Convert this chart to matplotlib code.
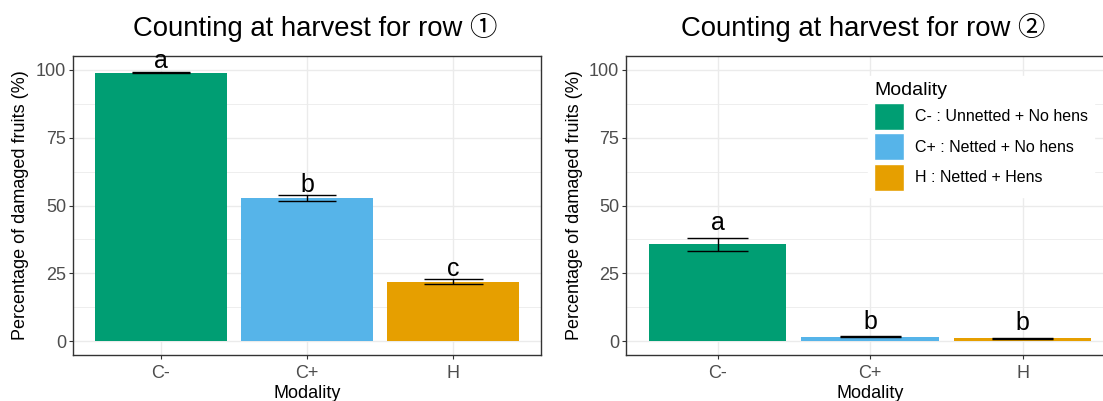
import numpy as np
import matplotlib.pyplot as plt
from matplotlib.patches import Patch
from matplotlib.ticker import MultipleLocator

plt.rcParams['font.family'] = ['Liberation Sans', 'Noto Sans CJK JP', 'DejaVu Sans']

categories = ['C-', 'C+', 'H']
colors = ['#009E73', '#56B4E9', '#E69F00']
legend_labels = ['C- : Unnetted + No hens', 'C+ : Netted + No hens', 'H : Netted + Hens']

row1_mean = [98.9, 52.8, 22.0]
row1_se = [0.3, 1.0, 0.9]
row1_letters = ['a', 'b', 'c']

row2_mean = [35.8, 1.7, 1.2]
row2_se = [2.4, 0.2, 0.2]
row2_letters = ['a', 'b', 'b']

FRAME = '#333333'
GRID = '#EBEBEB'


def draw_panel(ax, means, ses, letters, letter_offset, label_x):
    x = np.arange(len(categories))
    ax.bar(x, means, width=0.9, color=colors, zorder=2)
    means = np.array(means)
    ses = np.array(ses)
    lo, hi = means - ses, means + ses
    ax.vlines(x, lo, hi, color='black', lw=1.0, zorder=3)
    ax.hlines(lo, x - 0.2, x + 0.2, color='black', lw=1.0, zorder=3)
    ax.hlines(hi, x - 0.2, x + 0.2, color='black', lw=1.0, zorder=3)
    for xi, yi, lab in zip(x, hi, letters):
        ax.annotate(lab, (xi, yi), xytext=(0, letter_offset), textcoords='offset points',
                    ha='center', va='baseline', fontsize=18, zorder=4)

    ax.set_xlim(-0.6, 2.6)
    ax.set_ylim(-5, 105)
    ax.set_xticks(x)
    ax.set_xticklabels(categories)
    ax.yaxis.set_major_locator(MultipleLocator(25))
    ax.yaxis.set_minor_locator(MultipleLocator(12.5))
    ax.grid(True, which='major', color=GRID, lw=1.0, zorder=0)
    ax.grid(True, which='minor', axis='y', color=GRID, lw=0.6, zorder=0)
    ax.set_axisbelow(True)
    ax.tick_params(which='major', length=3, width=0.8, color=FRAME,
                   labelsize=13, labelcolor='#4D4D4D', pad=2)
    ax.tick_params(axis='x', pad=4)
    ax.tick_params(which='minor', length=0)
    for s in ax.spines.values():
        s.set_color(FRAME)
        s.set_linewidth(1.0)
    ax.set_xlabel('Modality', fontsize=13, labelpad=2)
    ax.set_ylabel('Percentage of damaged fruits (%)', fontsize=13)
    ax.yaxis.set_label_coords(label_x, 0.5)


fig = plt.figure(figsize=(11.03, 4.01), dpi=100)
W, H = 1103, 401
ax1 = fig.add_axes([73 / W, 1 - 355 / H, 468 / W, 299 / H])
ax2 = fig.add_axes([626 / W, 1 - 355 / H, 488 / W, 299 / H])

draw_panel(ax1, row1_mean, row1_se, row1_letters, 2.5, (29 - 73) / 468)
draw_panel(ax2, row2_mean, row2_se, row2_letters, 5.5, (583 - 626) / 488)

fig.text(315 / W, 1 - 36 / H, 'Counting at harvest for row \u2460', ha='center',
         va='baseline', fontsize=19.8)
fig.text(863.5 / W, 1 - 36 / H, 'Counting at harvest for row \u2461', ha='center',
         va='baseline', fontsize=19.8)

handles = [Patch(facecolor=c, edgecolor='white') for c in colors]
leg = ax2.legend(handles, legend_labels, title='Modality', loc='upper left',
                 bbox_to_anchor=(860 / W, 1 - 68 / H), bbox_transform=fig.transFigure,
                 fontsize=11.5, title_fontsize=14, frameon=True, fancybox=False,
                 edgecolor='white', framealpha=1, handlelength=1.85, handleheight=2.22,
                 labelspacing=0.22, handletextpad=0.7, borderpad=0.4, alignment='left')
leg.set_zorder(5)

fig.savefig('out.png', dpi=100)
